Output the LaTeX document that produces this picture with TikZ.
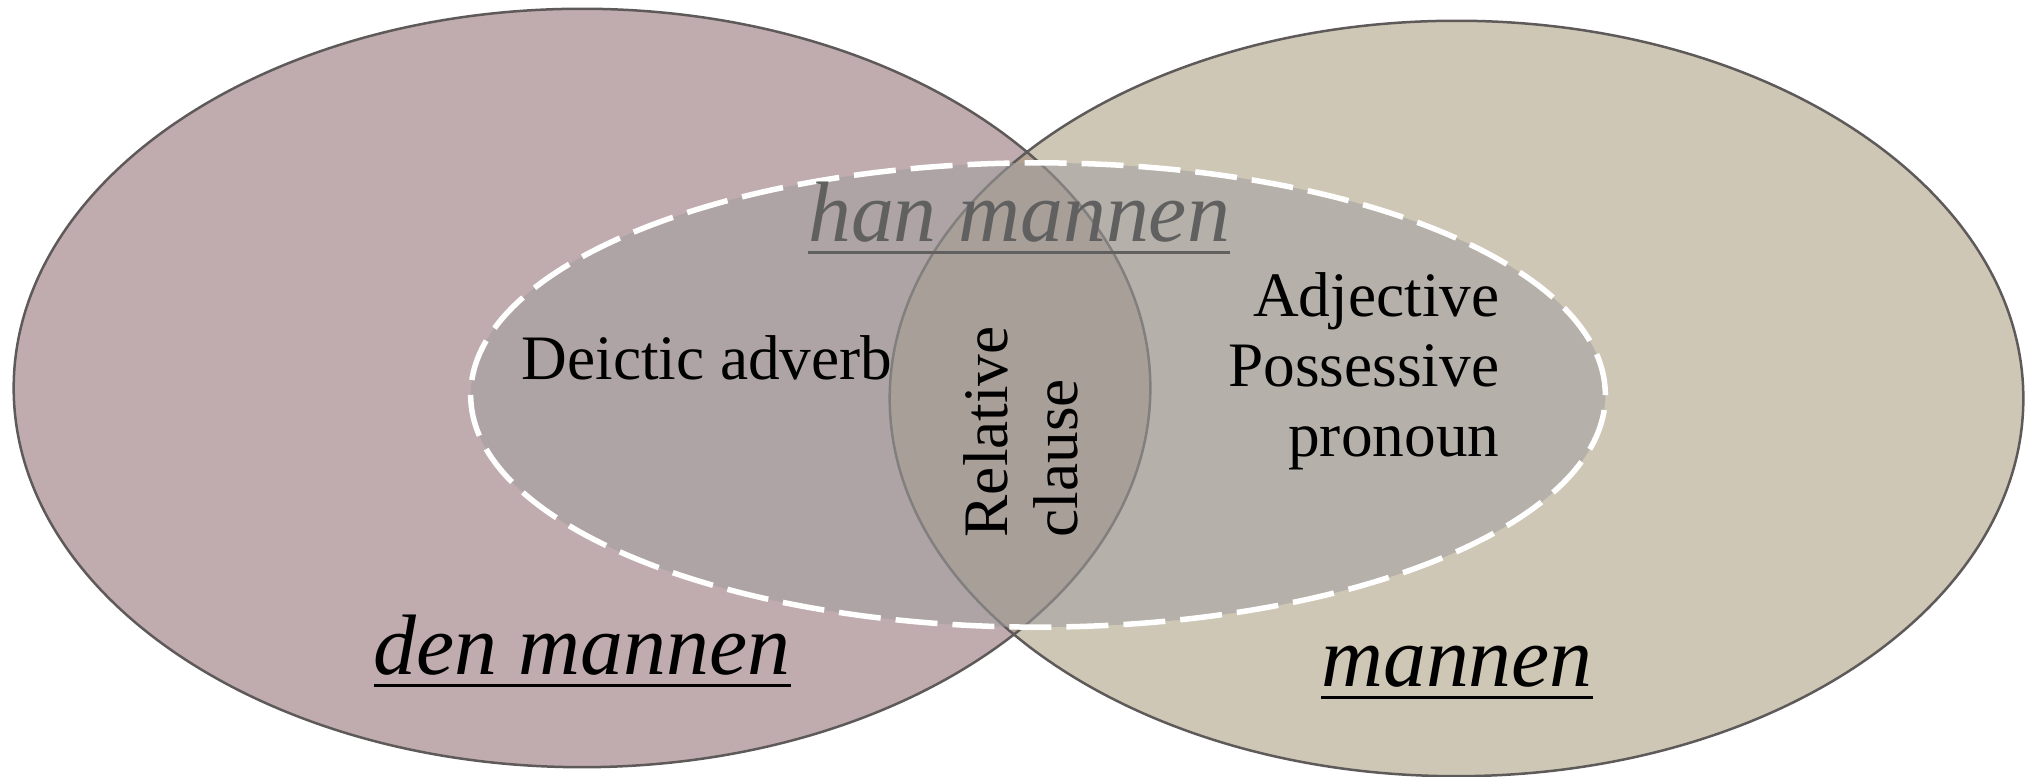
\documentclass[tikz,border=0pt]{standalone}
\usepackage{fontspec}
\setmainfont{Liberation Serif}
\definecolor{roseFill}{RGB}{192,172,174}
\definecolor{sandFill}{RGB}{170,156,126}
\definecolor{mistFill}{RGB}{160,158,159}
\definecolor{rimLine}{RGB}{95,90,90}
\definecolor{labelGray}{RGB}{96,96,96}
% underline with a rule set at a fixed depth below the baseline
\newcommand{\ulword}[1]{\setbox0\hbox{#1}\rlap{\rule[-3.3pt]{\wd0}{0.85pt}}\box0}
\tikzset{
  rim/.style={draw=rimLine, line width=0.025cm},
  bodytext/.style={inner sep=0pt, font=\fontsize{18pt}{19.9pt}\selectfont},
  termtext/.style={inner sep=0pt, font=\fontsize{24.4pt}{28pt}\selectfont\itshape},
}
\begin{document}
\begin{tikzpicture}[x=0.01cm, y=0.01cm]
\useasboundingbox (0,0) rectangle (2025,777);
% the two large sets
\coordinate (cL) at (582,389);
\coordinate (cR) at (1456.5,378.5);
\coordinate (cD) at (1038,382);
\fill[roseFill] (cL) ellipse [x radius=5.68cm, y radius=3.79cm];
\fill[sandFill, fill opacity=0.57] (cR) ellipse [x radius=5.665cm, y radius=3.775cm];
\draw[rim] (cL) ellipse [x radius=5.68cm, y radius=3.79cm];
\draw[rim] (cR) ellipse [x radius=5.665cm, y radius=3.775cm];
% the dashed inner set
\fill[mistFill, fill opacity=0.55] (cD) ellipse [x radius=5.67cm, y radius=2.32cm];
\draw[white, line width=0.055cm, dash pattern=on 0.42cm off 0.15cm]
  (cD) ellipse [x radius=5.67cm, y radius=2.32cm];
% labels
\node[termtext, text=labelGray, anchor=base] (han) at (1019,535) {\ulword{han mannen}};
\node[bodytext, anchor=base] (deictic) at (707,397) {Deictic adverb};
\node[bodytext, rotate=90, align=left, anchor=west] (rel) at (1021,239) {Relative\\clause};
\node[bodytext, align=right, anchor=north east] (adj) at (1500,505) {Adjective\\Possessive\\pronoun};
\node[termtext, anchor=base] (den) at (582,102) {\ulword{den mannen}};
\node[termtext, anchor=base] (man) at (1457,90) {\ulword{mannen}};
\end{tikzpicture}
\end{document}
